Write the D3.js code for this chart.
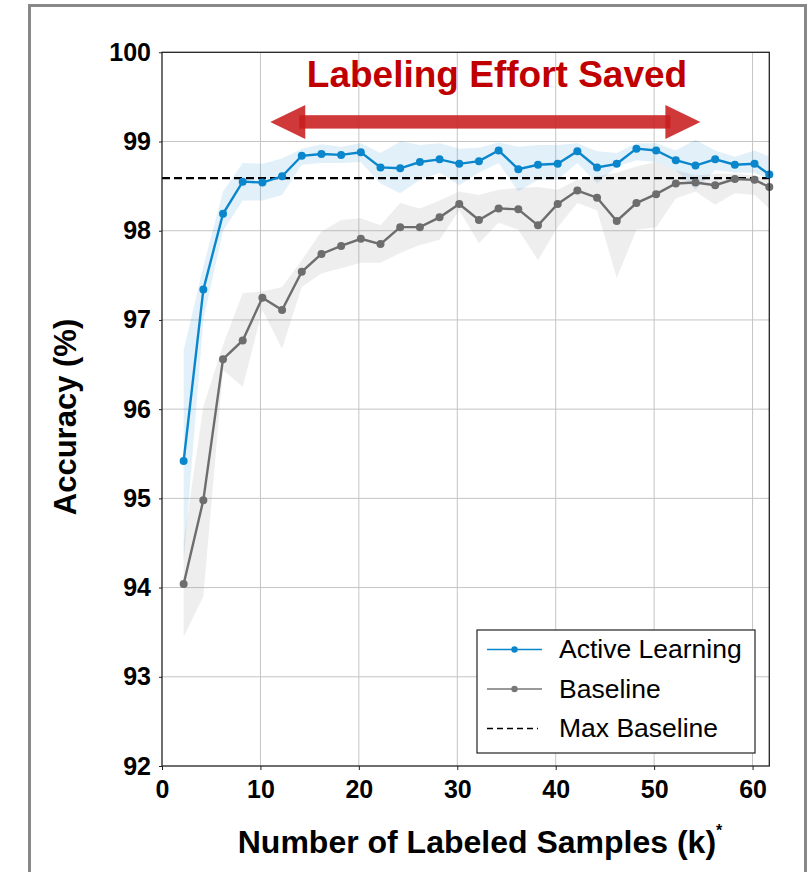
<!DOCTYPE html>
<html>
<head>
<meta charset="utf-8">
<script src="https://cdn.jsdelivr.net/npm/d3@7/dist/d3.min.js"></script>
<style>
  html, body { margin: 0; padding: 0; background: #fff; }
  svg { display: block; font-family: "Liberation Sans", Arial, Helvetica, sans-serif; }
</style>
</head>
<body>
<svg id="chart" width="812" height="872"></svg>
<script>
// Labeled sample counts (thousands)
const samples = [2.2, 4.2, 6.2, 8.2, 10.2, 12.2, 14.2, 16.2, 18.2, 20.2,
  22.2, 24.2, 26.2, 28.2, 30.2, 32.2, 34.2, 36.2, 38.2, 40.2,
  42.2, 44.2, 46.2, 48.2, 50.2, 52.2, 54.2, 56.2, 58.2, 60.2, 61.7];

// Active learning accuracy (%) with spread band
const activeMean = [95.42, 97.34, 98.19, 98.55, 98.54, 98.61, 98.84, 98.86, 98.85, 98.88,
  98.71, 98.70, 98.77, 98.80, 98.75, 98.78, 98.90, 98.69, 98.74, 98.75,
  98.89, 98.71, 98.75, 98.92, 98.90, 98.79, 98.73, 98.80, 98.74, 98.75, 98.63];
const activeUpper = [96.66, 97.60, 98.44, 98.76, 98.75, 98.81, 98.92, 98.97, 98.94, 98.98,
  98.87, 99.00, 98.96, 98.98, 98.92, 98.93, 98.99, 98.94, 98.96, 98.96,
  98.98, 98.89, 98.87, 98.98, 98.98, 98.90, 99.02, 98.90, 98.83, 98.90, 98.83];
const activeLower = [94.27, 97.00, 98.00, 98.34, 98.34, 98.40, 98.74, 98.76, 98.76, 98.77,
  98.53, 98.42, 98.57, 98.65, 98.51, 98.65, 98.76, 98.44, 98.57, 98.57,
  98.76, 98.53, 98.72, 98.79, 98.77, 98.68, 98.46, 98.68, 98.65, 98.65, 98.57];

// Baseline accuracy (%) with spread band
const baseMean = [94.04, 94.98, 96.56, 96.77, 97.25, 97.11, 97.54, 97.74, 97.83, 97.91,
  97.85, 98.04, 98.04, 98.15, 98.30, 98.12, 98.25, 98.24, 98.06, 98.30,
  98.45, 98.37, 98.11, 98.31, 98.41, 98.53, 98.54, 98.51, 98.58, 98.57, 98.49];
const baseUpper = [94.50, 96.03, 96.72, 97.30, 97.32, 97.37, 97.67, 97.99, 98.12, 98.14,
  98.06, 98.31, 98.25, 98.34, 98.44, 98.40, 98.46, 98.48, 98.49, 98.46,
  98.57, 98.61, 98.65, 98.72, 98.77, 98.68, 98.62, 98.64, 98.64, 98.62, 98.57];
const baseLower = [93.45, 93.90, 96.44, 96.25, 97.11, 96.68, 97.37, 97.52, 97.58, 97.64,
  97.64, 97.75, 97.84, 97.90, 98.23, 97.86, 98.09, 98.01, 97.67, 98.04,
  98.31, 98.23, 97.47, 98.01, 98.04, 98.36, 98.44, 98.29, 98.42, 98.40, 98.25];

const maxBaseline = 98.59;

const xTicks = [0, 10, 20, 30, 40, 50, 60];
const yTicks = [92, 93, 94, 95, 96, 97, 98, 99, 100];

// Span of the "labeling effort saved" arrow, in data units
const arrowSpan = [11.0, 54.7];
const arrowLevel = 99.22;

const legendItems = ["Active Learning", "Baseline", "Max Baseline"];

const BLUE = "#0a86cc";
const GRAY = "#6d6d6d";
const RED = "#c00000";

const svg = d3.select("#chart");

// outer frame
svg.append("rect")
  .attr("x", 29.5).attr("y", 5.5)
  .attr("width", 776).attr("height", 900)
  .attr("fill", "none").attr("stroke", "#888").attr("stroke-width", 3);

const x = d3.scaleLinear().domain([0, 61.7]).range([162, 769.3]);
const y = d3.scaleLinear().domain([92, 100]).range([766, 52.3]);

const plotL = x.range()[0], plotR = x.range()[1];
const plotT = y.range()[1], plotB = y.range()[0];

// grid
const grid = svg.append("g");
grid.selectAll("line.gx").data(xTicks.slice(1)).join("line")
  .attr("x1", d => x(d)).attr("x2", d => x(d))
  .attr("y1", plotT).attr("y2", plotB)
  .attr("stroke", "#c4c4c4").attr("stroke-width", 1);
grid.selectAll("line.gy").data(yTicks.slice(1, -1)).join("line")
  .attr("y1", d => y(d)).attr("y2", d => y(d))
  .attr("x1", plotL).attr("x2", plotR)
  .attr("stroke", "#c4c4c4").attr("stroke-width", 1);

const idx = d3.range(samples.length);

// spread bands
const band = (lo, hi) => d3.area()
  .x(i => x(samples[i]))
  .y0(i => y(lo[i]))
  .y1(i => y(hi[i]));

svg.append("path").datum(idx)
  .attr("d", band(baseLower, baseUpper))
  .attr("fill", "#9a9a9a").attr("fill-opacity", 0.17);
svg.append("path").datum(idx)
  .attr("d", band(activeLower, activeUpper))
  .attr("fill", "#3a9ad8").attr("fill-opacity", 0.15);

// max baseline reference
svg.append("line")
  .attr("x1", plotL).attr("x2", plotR)
  .attr("y1", y(maxBaseline)).attr("y2", y(maxBaseline))
  .attr("stroke", "#000").attr("stroke-width", 2.3)
  .attr("stroke-dasharray", "8,4");

// series lines and markers
function series(vals, color) {
  const line = d3.line().x(i => x(samples[i])).y(i => y(vals[i]));
  svg.append("path").datum(idx)
    .attr("d", line).attr("fill", "none")
    .attr("stroke", color).attr("stroke-width", 2.4);
  svg.append("g").selectAll("circle").data(idx).join("circle")
    .attr("cx", i => x(samples[i])).attr("cy", i => y(vals[i]))
    .attr("r", 4).attr("fill", color);
}
series(baseMean, GRAY);
series(activeMean, BLUE);

// axes box
svg.append("rect")
  .attr("x", plotL).attr("y", plotT)
  .attr("width", plotR - plotL).attr("height", plotB - plotT)
  .attr("fill", "none").attr("stroke", "#222").attr("stroke-width", 1.3);

// axes
const xAxis = svg.append("g")
  .attr("transform", `translate(0,${plotB})`)
  .call(d3.axisBottom(x).tickValues(xTicks).tickSize(4).tickPadding(10).tickFormat(d3.format("d")));
xAxis.select(".domain").remove();
xAxis.selectAll("text")
  .attr("font-size", 25).attr("font-weight", "bold").attr("fill", "#000")
  .attr("font-family", "Liberation Sans, Arial, sans-serif");
xAxis.selectAll("line").attr("stroke", "#222");

const yAxis = svg.append("g")
  .attr("transform", `translate(${plotL},0)`)
  .call(d3.axisLeft(y).tickValues(yTicks).tickSize(3).tickPadding(8).tickFormat(d3.format("d")));
yAxis.select(".domain").remove();
yAxis.selectAll("text")
  .attr("font-size", 25).attr("font-weight", "bold").attr("fill", "#000")
  .attr("font-family", "Liberation Sans, Arial, sans-serif");
yAxis.selectAll("line").attr("stroke", "#222");

// axis titles
const xt = svg.append("text")
  .attr("x", 480).attr("y", 853)
  .attr("text-anchor", "middle")
  .attr("font-size", 32).attr("font-weight", "bold").attr("fill", "#000");
xt.append("tspan").text("Number of Labeled Samples (k)");
xt.append("tspan").attr("font-size", 16).attr("dy", -17).text("*");

svg.append("text")
  .attr("transform", "translate(76,417) rotate(-90)")
  .attr("text-anchor", "middle")
  .attr("font-size", 31).attr("font-weight", "bold").attr("fill", "#000")
  .text("Accuracy (%)");

// double-headed arrow
const ay = y(arrowLevel);
const ax0 = x(arrowSpan[0]), ax1 = x(arrowSpan[1]);
const headL = 35, headH = 17, shaftH = 6.7;
const arrow = svg.append("g").attr("fill", "#c81e1e").attr("fill-opacity", 0.88);
arrow.append("rect")
  .attr("x", ax0 + headL - 6).attr("y", ay - shaftH)
  .attr("width", (ax1 - headL + 5) - (ax0 + headL - 6)).attr("height", shaftH * 2);
arrow.append("path")
  .attr("d", `M${ax0},${ay} L${ax0 + headL},${ay - headH} L${ax0 + headL},${ay + headH} Z`);
arrow.append("path")
  .attr("d", `M${ax1},${ay} L${ax1 - headL},${ay - headH} L${ax1 - headL},${ay + headH} Z`);

svg.append("text")
  .attr("x", 497).attr("y", 87)
  .attr("text-anchor", "middle")
  .attr("font-size", 37).attr("font-weight", "bold").attr("fill", RED)
  .text("Labeling Effort Saved");

// legend
const lg = svg.append("g");
lg.append("rect")
  .attr("x", 477).attr("y", 630).attr("width", 278).attr("height", 123)
  .attr("fill", "#fff").attr("stroke", "#222").attr("stroke-width", 1.2);
const rowY = [649.5, 689, 728.5];
const styles = [
  { color: BLUE, dash: null, marker: true },
  { color: "#777", dash: null, marker: true },
  { color: "#000", dash: "6,4", marker: false }
];
legendItems.forEach((name, k) => {
  const s = styles[k];
  lg.append("line")
    .attr("x1", 487).attr("x2", s.marker ? 542 : 538)
    .attr("y1", rowY[k]).attr("y2", rowY[k])
    .attr("stroke", s.color).attr("stroke-width", s.marker ? 1.6 : 1.7)
    .attr("stroke-dasharray", s.dash);
  if (s.marker) {
    lg.append("circle").attr("cx", 514.5).attr("cy", rowY[k]).attr("r", 3.2).attr("fill", s.color);
  }
  lg.append("text")
    .attr("x", 559).attr("y", rowY[k] + 8.5)
    .attr("font-size", 26.5).attr("fill", "#000")
    .text(name);
});
</script>
</body>
</html>
